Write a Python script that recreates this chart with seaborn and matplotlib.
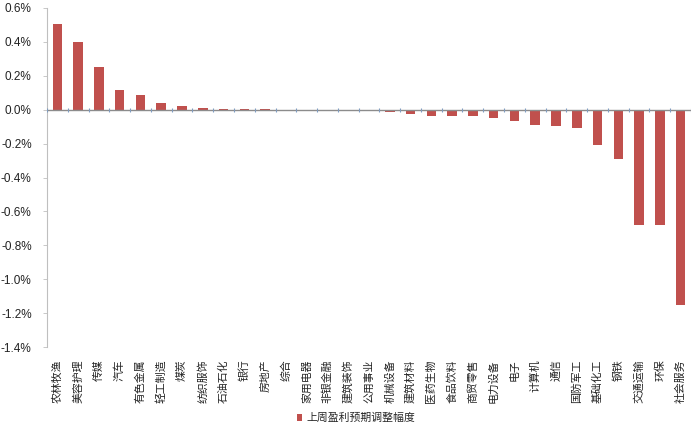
import matplotlib
matplotlib.use("Agg")
import matplotlib.pyplot as plt
import seaborn as sns
import pandas as pd
import numpy as np
from matplotlib.ticker import FuncFormatter, MultipleLocator
from matplotlib.patches import Patch

categories = ["农林牧渔", "美容护理", "传媒", "汽车", "有色金属", "轻工制造", "煤炭", "纺织服饰",
              "石油石化", "银行", "房地产", "综合", "家用电器", "非银金融", "建筑装饰", "公用事业",
              "机械设备", "建筑材料", "医药生物", "食品饮料", "商贸零售", "电力设备", "电子", "计算机",
              "通信", "国防军工", "基础化工", "钢铁", "交通运输", "环保", "社会服务"]
values = [0.505, 0.40, 0.25, 0.115, 0.085, 0.04, 0.022, 0.008,
          0.005, 0.003, 0.002, 0.0, -0.002, -0.003, -0.005, -0.006,
          -0.015, -0.025, -0.035, -0.035, -0.04, -0.047, -0.068, -0.092,
          -0.098, -0.11, -0.208, -0.29, -0.68, -0.68, -1.15]
series_name = "上周盈利预期调整幅度"

sns.set_theme(style="white")
plt.rcParams['font.family'] = ['Liberation Sans', 'Noto Sans CJK SC', 'DejaVu Sans']

df = pd.DataFrame({"cat": categories, "val": values})
color = "#C0504D"

fig = plt.figure(figsize=(7, 4.25), dpi=100)
ax = fig.add_axes([47/700, 1-347/425, (691-47)/700, (347-8)/425])
sns.barplot(data=df, x="cat", y="val", color=color, width=0.46, ax=ax,
            saturation=1, linewidth=0, edgecolor="none", zorder=2)

ax.set_xlim(-0.5, len(categories)-0.5)
ax.set_ylim(-1.4, 0.6)
ax.yaxis.set_major_locator(MultipleLocator(0.2))
ax.yaxis.set_major_formatter(FuncFormatter(lambda v, p: f"{v:.1f}%"))
ax.set_xlabel("")
ax.set_ylabel("")

for s in ["top", "right", "bottom"]:
    ax.spines[s].set_visible(False)
ax.spines["left"].set_color("#BFBFBF")
ax.spines["left"].set_linewidth(0.8)
ax.tick_params(axis="y", which="major", left=True, length=3, width=0.6, color="#BFBFBF",
               labelsize=8.5, labelcolor="#222222", pad=8)
ax.tick_params(axis="x", which="major", bottom=False, labelsize=7.8, labelcolor="#222222",
               labelrotation=90, pad=3)

# zero line with category-boundary tick marks
ax.axhline(0, color="#8C8C8C", linewidth=1.0, zorder=5, snap=True)
boundaries = np.arange(len(categories) + 1) - 0.5
ax.vlines(boundaries, -0.012, 0.012, color="#7F9CC0", linewidth=0.8, zorder=5)

fig.legend(handles=[Patch(facecolor=color, edgecolor="none", label=series_name)],
           loc="center", bbox_to_anchor=(0.509, 1-418/425), frameon=False,
           fontsize=7.8, handlelength=0.45, handleheight=0.6, handletextpad=0.4)

fig.savefig("out.png", dpi=100, facecolor="white")
